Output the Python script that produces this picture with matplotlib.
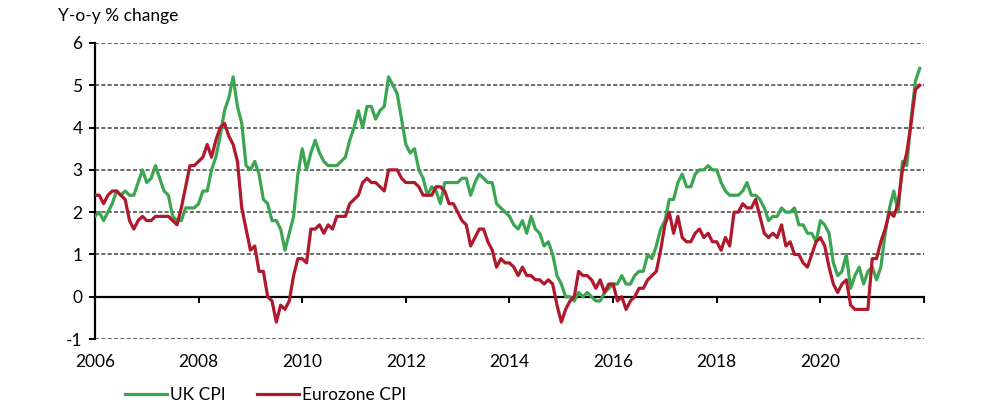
import numpy as np
import matplotlib
matplotlib.use("Agg")
import matplotlib.pyplot as plt

plt.rcParams['font.family'] = ['Lato', 'DejaVu Sans']
plt.rcParams['axes.unicode_minus'] = False

# Monthly y-o-y inflation, Jan 2006 - Dec 2021
start_year = 2006
uk_cpi = [
    1.9, 2.0, 1.8, 2.0, 2.2, 2.5, 2.4, 2.5, 2.4, 2.4, 2.7, 3.0,
    2.7, 2.8, 3.1, 2.8, 2.5, 2.4, 1.9, 1.8, 1.8, 2.1, 2.1, 2.1,
    2.2, 2.5, 2.5, 3.0, 3.3, 3.8, 4.4, 4.7, 5.2, 4.5, 4.1, 3.1,
    3.0, 3.2, 2.9, 2.3, 2.2, 1.8, 1.8, 1.6, 1.1, 1.5, 1.9, 2.9,
    3.5, 3.0, 3.4, 3.7, 3.4, 3.2, 3.1, 3.1, 3.1, 3.2, 3.3, 3.7,
    4.0, 4.4, 4.0, 4.5, 4.5, 4.2, 4.4, 4.5, 5.2, 5.0, 4.8, 4.2,
    3.6, 3.4, 3.5, 3.0, 2.8, 2.4, 2.6, 2.5, 2.2, 2.7, 2.7, 2.7,
    2.7, 2.8, 2.8, 2.4, 2.7, 2.9, 2.8, 2.7, 2.7, 2.2, 2.1, 2.0,
    1.9, 1.7, 1.6, 1.8, 1.5, 1.9, 1.6, 1.5, 1.2, 1.3, 1.0, 0.5,
    0.3, 0.0, 0.0, -0.1, 0.1, 0.0, 0.1, 0.0, -0.1, -0.1, 0.1, 0.2,
    0.3, 0.3, 0.5, 0.3, 0.3, 0.5, 0.6, 0.6, 1.0, 0.9, 1.2, 1.6,
    1.8, 2.3, 2.3, 2.7, 2.9, 2.6, 2.6, 2.9, 3.0, 3.0, 3.1, 3.0,
    3.0, 2.7, 2.5, 2.4, 2.4, 2.4, 2.5, 2.7, 2.4, 2.4, 2.3, 2.1,
    1.8, 1.9, 1.9, 2.1, 2.0, 2.0, 2.1, 1.7, 1.7, 1.5, 1.5, 1.3,
    1.8, 1.7, 1.5, 0.8, 0.5, 0.6, 1.0, 0.2, 0.5, 0.7, 0.3, 0.6,
    0.7, 0.4, 0.7, 1.5, 2.1, 2.5, 2.0, 3.2, 3.1, 4.2, 5.1, 5.4,
]
ez_cpi = [
    2.4, 2.4, 2.2, 2.4, 2.5, 2.5, 2.4, 2.3, 1.8, 1.6, 1.8, 1.9,
    1.8, 1.8, 1.9, 1.9, 1.9, 1.9, 1.8, 1.7, 2.1, 2.6, 3.1, 3.1,
    3.2, 3.3, 3.6, 3.3, 3.7, 4.0, 4.1, 3.8, 3.6, 3.2, 2.1, 1.6,
    1.1, 1.2, 0.6, 0.6, 0.0, -0.1, -0.6, -0.2, -0.3, -0.1, 0.5, 0.9,
    0.9, 0.8, 1.6, 1.6, 1.7, 1.5, 1.7, 1.6, 1.9, 1.9, 1.9, 2.2,
    2.3, 2.4, 2.7, 2.8, 2.7, 2.7, 2.6, 2.5, 3.0, 3.0, 3.0, 2.8,
    2.7, 2.7, 2.7, 2.6, 2.4, 2.4, 2.4, 2.6, 2.6, 2.5, 2.2, 2.2,
    2.0, 1.8, 1.7, 1.2, 1.4, 1.6, 1.6, 1.3, 1.1, 0.7, 0.9, 0.8,
    0.8, 0.7, 0.5, 0.7, 0.5, 0.5, 0.4, 0.4, 0.3, 0.4, 0.3, -0.2,
    -0.6, -0.3, -0.1, 0.0, 0.6, 0.5, 0.5, 0.4, 0.2, 0.4, 0.1, 0.3,
    0.3, -0.1, 0.0, -0.3, -0.1, 0.0, 0.2, 0.2, 0.4, 0.5, 0.6, 1.1,
    1.7, 2.0, 1.5, 1.9, 1.4, 1.3, 1.3, 1.5, 1.6, 1.4, 1.5, 1.3,
    1.3, 1.1, 1.4, 1.2, 2.0, 2.0, 2.2, 2.1, 2.1, 2.3, 1.9, 1.5,
    1.4, 1.5, 1.4, 1.7, 1.2, 1.3, 1.0, 1.0, 0.8, 0.7, 1.0, 1.3,
    1.4, 1.2, 0.7, 0.3, 0.1, 0.3, 0.4, -0.2, -0.3, -0.3, -0.3, -0.3,
    0.9, 0.9, 1.3, 1.6, 2.0, 1.9, 2.2, 3.0, 3.4, 4.1, 4.9, 5.0,
]
year_ticks = list(range(2006, 2023, 2))
year_labels = [str(y) for y in year_ticks[:-1]] + [""]
y_ticks = list(range(-1, 7))

green = '#3BA552'
red = '#B0182C'

x = start_year + np.arange(len(uk_cpi)) / 12

fig = plt.figure(figsize=(10.08, 4.15), dpi=100)
ax = fig.add_axes([0.0942, 0.1831, 0.8225, 0.7133])

# dashed horizontal grid
for yv in y_ticks:
    if yv != 0:
        ax.axhline(yv, color='#606060', lw=1.3, linestyle=(0, (2.3, 1.2)), zorder=1)

ax.plot(x, uk_cpi, color=green, lw=2.3, label='UK CPI', zorder=3)
ax.plot(x, ez_cpi, color=red, lw=2.3, label='Eurozone CPI', zorder=3)

ax.set_xlim(2006, 2022)
ax.set_ylim(-1, 6)
ax.set_yticks(y_ticks)
ax.set_xticks(year_ticks)
ax.set_xticklabels(year_labels)

for side in ['top', 'right']:
    ax.spines[side].set_visible(False)
ax.spines['left'].set_linewidth(1.6)
ax.spines['bottom'].set_position(('data', 0))
ax.spines['bottom'].set_linewidth(1.6)
ax.spines['bottom'].set_zorder(2)

ax.tick_params(axis='y', direction='out', length=4, width=1.4, labelsize=12.5, pad=5)
ax.tick_params(axis='x', direction='out', length=4, width=1.4, labelsize=12.5, pad=37)

fig.text(0.058, 0.961, 'Y-o-y % change', fontsize=12.5, va='center', ha='left')

fig.legend(loc='center left', bbox_to_anchor=(0.124, 0.048), ncol=2, frameon=False,
           fontsize=12.5, handlelength=2.4, handletextpad=0.2, columnspacing=1.8,
           borderpad=0, borderaxespad=0)

fig.savefig('out.png', dpi=100)
